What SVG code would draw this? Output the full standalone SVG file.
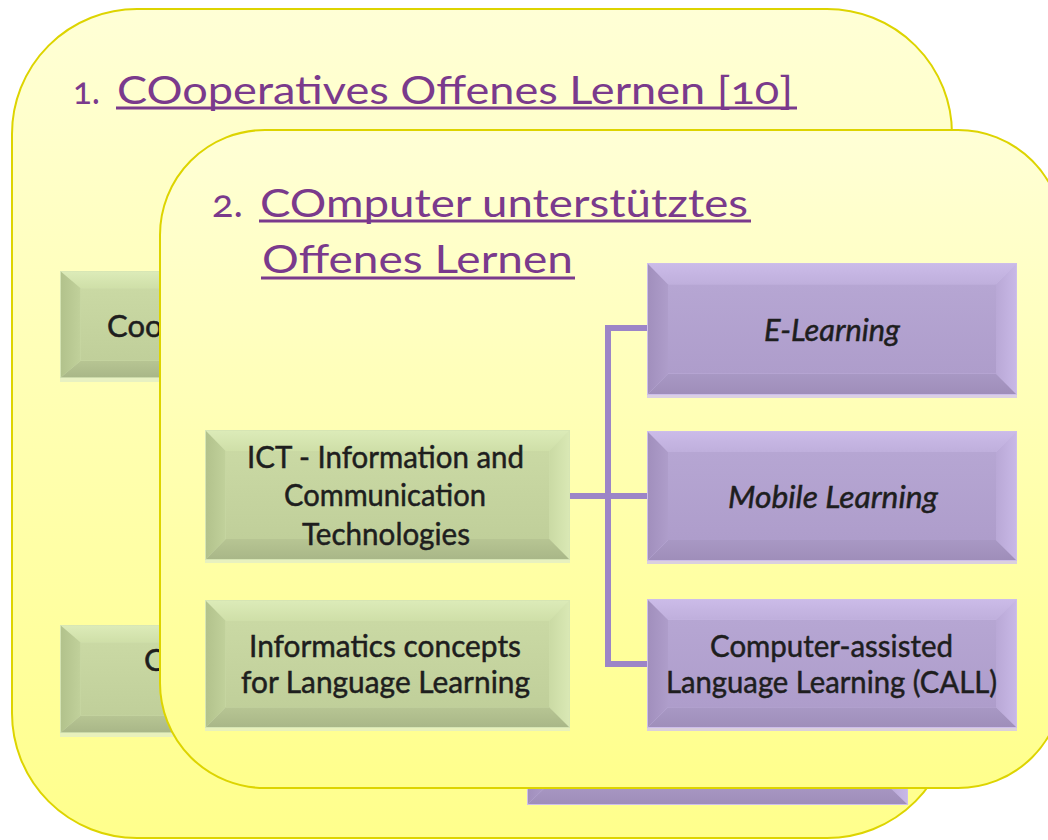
<svg xmlns="http://www.w3.org/2000/svg" width="1048" height="840" viewBox="0 0 1048 840">
  <defs>
    <linearGradient id="cardFill" x1="0" y1="0" x2="0" y2="1">
      <stop offset="0" stop-color="#ffffd6"/>
      <stop offset="1" stop-color="#ffff8c"/>
    </linearGradient>
    <linearGradient id="gTop" x1="0" y1="0" x2="0" y2="1">
      <stop offset="0" stop-color="#dcebb8"/>
      <stop offset="1" stop-color="#cfdfa8"/>
    </linearGradient>
    <linearGradient id="gLeft" x1="0" y1="0" x2="1" y2="0">
      <stop offset="0" stop-color="#b2c28c"/>
      <stop offset="1" stop-color="#c1d19b"/>
    </linearGradient>
    <linearGradient id="gRight" x1="0" y1="0" x2="1" y2="0">
      <stop offset="0" stop-color="#cadaa4"/>
      <stop offset="1" stop-color="#d9e8b4"/>
    </linearGradient>
    <linearGradient id="gBottom" x1="0" y1="0" x2="0" y2="1">
      <stop offset="0" stop-color="#b7c593"/>
      <stop offset="1" stop-color="#a9b788"/>
    </linearGradient>
    <linearGradient id="gFace" x1="0" y1="0" x2="0" y2="1">
      <stop offset="0" stop-color="#cad9a4"/>
      <stop offset="1" stop-color="#c0cf9a"/>
    </linearGradient>
    <linearGradient id="pTop" x1="0" y1="0" x2="0" y2="1">
      <stop offset="0" stop-color="#cbbbe8"/>
      <stop offset="1" stop-color="#bfafdc"/>
    </linearGradient>
    <linearGradient id="pLeft" x1="0" y1="0" x2="1" y2="0">
      <stop offset="0" stop-color="#a18fbd"/>
      <stop offset="1" stop-color="#ae9dca"/>
    </linearGradient>
    <linearGradient id="pRight" x1="0" y1="0" x2="1" y2="0">
      <stop offset="0" stop-color="#b9a8d6"/>
      <stop offset="1" stop-color="#c8b8e6"/>
    </linearGradient>
    <linearGradient id="pBottom" x1="0" y1="0" x2="0" y2="1">
      <stop offset="0" stop-color="#a898c4"/>
      <stop offset="1" stop-color="#9f8eba"/>
    </linearGradient>
    <linearGradient id="pFace" x1="0" y1="0" x2="0" y2="1">
      <stop offset="0" stop-color="#b6a6d3"/>
      <stop offset="1" stop-color="#ae9dcb"/>
    </linearGradient>

    <!-- bevelled button shapes, stretched to each box size -->
    <symbol id="bevel-green" viewBox="0 0 370 130" preserveAspectRatio="none">
      <rect x="0" y="0" width="370" height="130" fill="#d6e5b4"/>
      <polygon points="1,1 369,1 349,21 21,21" fill="url(#gTop)"/>
      <polygon points="1,1 21,21 21,109 1,129" fill="url(#gLeft)"/>
      <polygon points="369,1 369,129 349,109 349,21" fill="url(#gRight)"/>
      <polygon points="1,129 21,109 349,109 369,129" fill="url(#gBottom)"/>
      <rect x="21" y="21" width="328" height="88" fill="url(#gFace)"/>
    </symbol>
    <symbol id="bevel-purple" viewBox="0 0 370 130" preserveAspectRatio="none">
      <rect x="0" y="0" width="370" height="130" fill="#cdbeea"/>
      <polygon points="1,1 369,1 349,21 21,21" fill="url(#pTop)"/>
      <polygon points="1,1 21,21 21,109 1,129" fill="url(#pLeft)"/>
      <polygon points="369,1 369,129 349,109 349,21" fill="url(#pRight)"/>
      <polygon points="1,129 21,109 349,109 369,129" fill="url(#pBottom)"/>
      <rect x="21" y="21" width="328" height="88" fill="url(#pFace)"/>
    </symbol>
  </defs>

  <style>
    .card { fill: url(#cardFill); stroke: #ddd400; stroke-width: 2; }
    .title { font-family: Lato, "Open Sans", "Liberation Sans", sans-serif; font-size: 38px; fill: #7a3a8c; font-variant-numeric: oldstyle-nums; }
    .uline { stroke: #7a3a8c; stroke-width: 3; }
    .label { font-family: Lato, "Liberation Sans", sans-serif; font-size: 31px; fill: #1e1e1e; stroke: #1e1e1e; stroke-width: 0.5; text-anchor: start; }
    .it { font-style: italic; }
    .conn { fill: none; stroke: #9c85c7; stroke-width: 6; stroke-linejoin: miter; stroke-linecap: butt; }
    .glow-g { fill: #e2eec6; opacity: 0.8; }
    .glow-p { fill: #d2c4ee; opacity: 0.8; }
  </style>

  <!-- rear panel -->
  <g id="panel-1">
    <rect class="card" x="12" y="9" width="940" height="829" rx="125" ry="125"/>
    <text class="title" x="73" y="104" textLength="27" lengthAdjust="spacingAndGlyphs">1.</text>
    <text class="title" x="117" y="104" textLength="676" lengthAdjust="spacingAndGlyphs">COoperatives Offenes Lernen [10]</text>
    <line class="uline" x1="116" y1="108" x2="797" y2="108"/>
  </g>

  <g id="node-back-1">
    <rect class="glow-g" x="60" y="377" width="365" height="5"/>
    <use href="#bevel-green" x="60" y="271" width="365" height="107"/>
    <text class="label" x="107" y="337">Coo</text>
  </g>
  <g id="node-back-2">
    <rect class="glow-g" x="60" y="732" width="365" height="5"/>
    <use href="#bevel-green" x="60" y="625" width="365" height="108"/>
    <text class="label" x="144" y="671">C</text>
  </g>
  <g id="node-back-3">
    <use href="#bevel-purple" x="527" y="675" width="381" height="130"/>
  </g>

  <!-- front panel -->
  <g id="panel-2">
    <rect class="card" x="160" y="130" width="903" height="658" rx="105" ry="105"/>
    <text class="title" x="212" y="217" textLength="31" lengthAdjust="spacingAndGlyphs">2.</text>
    <text class="title" x="260" y="217" textLength="488" lengthAdjust="spacingAndGlyphs">COmputer unterstütztes</text>
    <line class="uline" x1="259" y1="221" x2="751" y2="221"/>
    <text class="title" x="262" y="273" textLength="311" lengthAdjust="spacingAndGlyphs">Offenes Lernen</text>
    <line class="uline" x1="261" y1="278" x2="575" y2="278"/>
  </g>

  <g id="connectors">
    <path class="conn" d="M570,496 H647"/>
    <path class="conn" d="M647,328 H608 V664 H647"/>
  </g>

  <g id="node-ict">
    <rect class="glow-g" x="205" y="559" width="365" height="4"/>
    <use href="#bevel-green" x="205" y="430" width="365" height="130"/>
    <text class="label" x="247" y="468" textLength="277" lengthAdjust="spacingAndGlyphs">ICT - Information and</text>
    <text class="label" x="284" y="506" textLength="202" lengthAdjust="spacingAndGlyphs">Communication</text>
    <text class="label" x="302" y="545" textLength="168" lengthAdjust="spacingAndGlyphs">Technologies</text>
  </g>

  <g id="node-informatics">
    <rect class="glow-g" x="205" y="727" width="365" height="4"/>
    <use href="#bevel-green" x="205" y="600" width="365" height="128"/>
    <text class="label" x="249" y="657" textLength="272" lengthAdjust="spacingAndGlyphs">Informatics concepts</text>
    <text class="label" x="241" y="693" textLength="289" lengthAdjust="spacingAndGlyphs">for Language Learning</text>
  </g>

  <g id="node-elearning">
    <rect class="glow-p" x="647" y="394" width="370" height="4"/>
    <use href="#bevel-purple" x="647" y="263" width="370" height="132"/>
    <text class="label it" x="764" y="341" textLength="136" lengthAdjust="spacingAndGlyphs">E-Learning</text>
  </g>

  <g id="node-mobile">
    <rect class="glow-p" x="647" y="560" width="370" height="4"/>
    <use href="#bevel-purple" x="647" y="431" width="370" height="130"/>
    <text class="label it" x="728" y="508" textLength="210" lengthAdjust="spacingAndGlyphs">Mobile Learning</text>
  </g>

  <g id="node-call">
    <rect class="glow-p" x="647" y="727" width="370" height="4"/>
    <use href="#bevel-purple" x="647" y="599" width="370" height="129"/>
    <text class="label" x="710" y="657" textLength="243" lengthAdjust="spacingAndGlyphs">Computer-assisted</text>
    <text class="label" x="666" y="693" textLength="331" lengthAdjust="spacingAndGlyphs">Language Learning (CALL)</text>
  </g>
</svg>
